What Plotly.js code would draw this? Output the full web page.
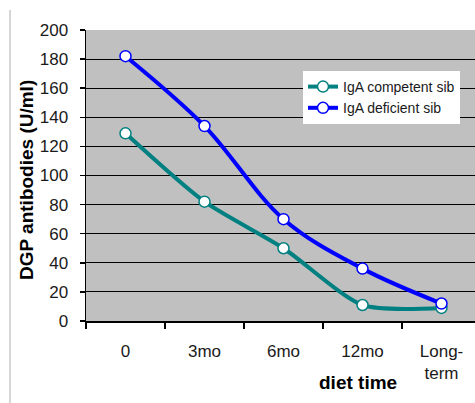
<!DOCTYPE html>
<html>
<head>
<meta charset="utf-8">
<script src="https://cdn.plot.ly/plotly-3.0.1.min.js"></script>
<style>html,body{margin:0;padding:0;background:#fff;}#chart{width:475px;height:403px;}</style>
</head>
<body>
<div id="chart"></div>
<script>
var categories = ["0", "3mo", "6mo", "12mo", "Long-<br>term"];
var competent = [129, 82, 50, 11, 9];
var deficient = [182, 134, 70, 36, 12];
var yTicks = [0, 20, 40, 60, 80, 100, 120, 140, 160, 180, 200];

var W = 475, H = 403, L = 86, T = 30, B = 82, R = 0;
var pw = W - L - R, ph = H - T - B;
function px(x){ return (x - L) / pw; }
function py(y){ return (H - B - y) / ph; }

var traces = [
  {
    x: categories, y: competent, name: "IgA competent sib", type: "scatter", mode: "lines+markers",
    line: {color: "#008080", width: 4, shape: "spline", smoothing: 0.7},
    marker: {symbol: "circle", size: 11, color: "#ffffff", line: {color: "#008080", width: 1.5}}
  },
  {
    x: categories, y: deficient, name: "IgA deficient sib", type: "scatter", mode: "lines+markers",
    line: {color: "#0000ff", width: 4, shape: "spline", smoothing: 1},
    marker: {symbol: "circle", size: 11, color: "#ffffff", line: {color: "#0000ff", width: 1.5}}
  }
];

var layout = {
  width: W, height: H,
  margin: {l: L, r: R, t: T, b: B, pad: 0},
  paper_bgcolor: "#ffffff",
  plot_bgcolor: "#c0c0c0",
  font: {family: "Liberation Sans, Arial, sans-serif", color: "#000000"},
  showlegend: true,
  legend: {
    x: px(303), y: py(71), xanchor: "left", yanchor: "top",
    bgcolor: "#ffffff", borderwidth: 0,
    font: {size: 14, color: "#1a1a1a"},
    itemwidth: 30
  },
  xaxis: {
    type: "category",
    range: [-0.5, -0.5 + pw / 79],
    showgrid: false, zeroline: false,
    showline: true, linecolor: "#000000", linewidth: 1.5,
    ticks: "outside", ticklen: 6, tickcolor: "#000000", tickwidth: 1.5,
    tickson: "boundaries",
    tickfont: {size: 17, color: "#1a1a1a"},
    ticklabelstandoff: 14
  },
  yaxis: {
    range: [0, 200],
    tickvals: yTicks, ticktext: yTicks.map(String),
    showgrid: true, gridcolor: "#000000", gridwidth: 1,
    zeroline: false,
    showline: true, linecolor: "#000000", linewidth: 1.5,
    ticks: "outside", ticklen: 5, tickcolor: "#000000", tickwidth: 1.5,
    tickfont: {size: 17, color: "#1a1a1a"},
    ticklabelstandoff: 8
  },
  annotations: [
    {
      text: "<b>DGP antibodies (U/ml)</b>", textangle: -90,
      xref: "paper", yref: "paper", x: px(27), y: py(180),
      xanchor: "center", yanchor: "middle", showarrow: false,
      font: {size: 19, color: "#000000"}
    },
    {
      text: "<b>diet time</b>",
      xref: "paper", yref: "paper", x: px(358), y: py(382),
      xanchor: "center", yanchor: "middle", showarrow: false,
      font: {size: 19, color: "#000000"}
    }
  ],
  shapes: [
    {type: "line", xref: "paper", yref: "paper", x0: px(10), x1: px(10), y0: py(10), y1: py(403),
     line: {color: "#c8c8c8", width: 1.5}}
  ]
};

Plotly.newPlot("chart", traces, layout, {displayModeBar: false, staticPlot: true});
</script>
</body>
</html>
